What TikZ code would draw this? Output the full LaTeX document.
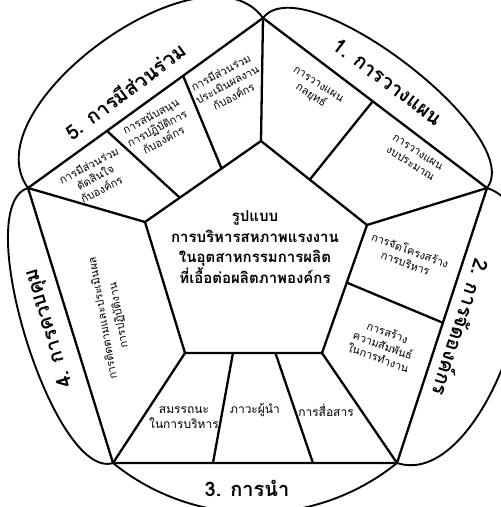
\documentclass[tikz,border=0pt]{standalone}
\usepackage{fontspec}
\newfontfamily\thaifont[Script=Thai]{Loma}
\usetikzlibrary{calc}

\tikzset{
  edge/.style={line width=2.3pt, line join=round},
  lens/.style={line width=1.9pt},
  topic/.style={font=\thaifont\bfseries\fontsize{20}{22}\selectfont, inner sep=0pt},
  subtopic/.style={font=\thaifont\fontsize{11}{13.5}\selectfont, align=center, inner sep=0pt},
  core/.style={font=\thaifont\bfseries\fontsize{15}{20.5}\selectfont, align=center, inner sep=0pt}
}

\begin{document}
\begin{tikzpicture}[x=1pt,y=-1pt]
  \useasboundingbox (0,0) rectangle (501,507);
  \clip (0,0) rectangle (501,507);
  % outer pentagon
  \coordinate (T) at (263,18);
  \coordinate (R) at (487,188);
  \coordinate (BR) at (397,463);
  \coordinate (BL) at (113,463);
  \coordinate (L) at (28,188);
  % inner pentagon
  \coordinate (iT) at (261,141);
  \coordinate (iR) at (367,225);
  \coordinate (iBR) at (322,353);
  \coordinate (iBL) at (185,353);
  \coordinate (iL) at (145,222);

  % lenses round the edges
  \draw[lens] (T) .. controls ($(T)!67pt!90:(R)$) and ($(R)!67pt!-90:(T)$) .. (R);
  \draw[lens] (R) .. controls ($(R)!95pt!90:(BR)$) and ($(BR)!95pt!-90:(R)$) .. (BR);
  \draw[lens] (BR) .. controls ($(BR)!106pt!39:(BL)$) and ($(BL)!106pt!-39:(BR)$) .. (BL);
  \draw[lens] (BL) .. controls ($(BL)!62pt!90:(L)$) and ($(L)!62pt!-90:(BL)$) .. (L);
  \draw[lens] (L) .. controls ($(L)!100pt!90:(T)$) and ($(T)!100pt!-90:(L)$) .. (T);

  \draw[edge] (T) -- (R) -- (BR) -- (BL) -- (L) -- cycle;
  \draw[edge] (iT) -- (iR) -- (iBR) -- (iBL) -- (iL) -- cycle;
  \draw[edge] (T) -- (iT) (R) -- (iR) (BR) -- (iBR) (BL) -- (iBL) (L) -- (iL);

  % splits inside the ring
  \draw[edge] ($(T)!0.49!(R)$) -- ($(iT)!0.46!(iR)$);
  \draw[edge] ($(R)!0.49!(BR)$) -- ($(iR)!0.45!(iBR)$);
  \draw[edge] ($(BL)!0.352!(BR)$) -- ($(iBL)!0.35!(iBR)$);
  \draw[edge] ($(BL)!0.704!(BR)$) -- ($(iBL)!0.66!(iBR)$);
  \draw[edge] ($(L)!0.336!(T)$) -- ($(iL)!0.30!(iT)$);
  \draw[edge] ($(L)!0.66!(T)$) -- ($(iL)!0.66!(iT)$);

  % centre
  \node[core] (model) at (255,247) {รูปแบบ\\การบริหารสหภาพแรงงาน\\ในอุตสาหกรรมการผลิต\\ที่เอื้อต่อผลิตภาพองค์กร};

  % 1
  \node[topic, rotate=-37] (plan) at (388,82) {1. การวางแผน};
  \node[subtopic, rotate=-33] (strategy) at (314,91) {การวางแผน\\กลยุทธ์};
  \node[subtopic, rotate=-33] (budget) at (414,158) {การวางแผน\\งบประมาณ};
  % 2
  \node[topic, rotate=-108] (organize) at (462,328) {2. การจัดองค์กร};
  \node[subtopic, rotate=-20] (structure) at (408,256) {การจัดโครงสร้าง\\การบริหาร};
  \node[subtopic, rotate=-20] (relation) at (383,345) {การสร้าง\\ความสัมพันธ์\\ในการทำงาน};
  % 3
  \node[topic] (lead) at (247,488) {3. การนำ};
  \node[subtopic, font=\thaifont\fontsize{12}{15}\selectfont] (competence) at (184,417) {สมรรถนะ\\ในการบริหาร};
  \node[subtopic, font=\thaifont\fontsize{12}{15}\selectfont] (leadership) at (255,410) {ภาวะผู้นำ};
  \node[subtopic, font=\thaifont\fontsize{12}{15}\selectfont] (communicate) at (326,410) {การสื่อสาร};
  % 4
  \node[topic, rotate=107] (control) at (50,328) {4. การควบคุม};
  \node[subtopic, rotate=100, font=\thaifont\fontsize{11}{16}\selectfont] (monitor) at (111,317) {การติดตามและประเมินผล\\การปฏิบัติงาน};
  % 5
  \node[topic, rotate=37] (participate) at (125,91) {5. การมีส่วนร่วม};
  \node[subtopic, rotate=28] (decide) at (95,177) {การมีส่วนร่วม\\ตัดสินใจ\\กับองค์กร};
  \node[subtopic, rotate=28] (support) at (157,128) {การสนับสนุน\\การปฏิบัติการ\\กับองค์กร};
  \node[subtopic, rotate=28] (assess) at (227,84) {การมีส่วนร่วม\\ประเมินผลงาน\\กับองค์กร};
\end{tikzpicture}
\end{document}
